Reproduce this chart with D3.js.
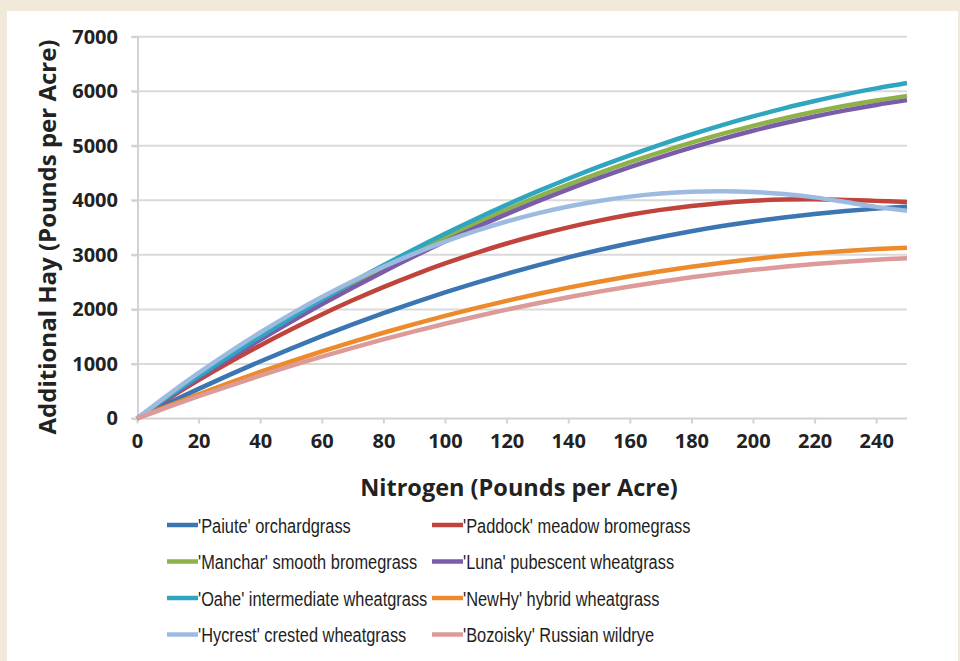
<!DOCTYPE html>
<html><head><meta charset="utf-8">
<script src="https://cdn.jsdelivr.net/npm/d3@7/dist/d3.min.js"></script>
<style>
html,body{margin:0;padding:0;background:#f1e9da;}
svg{display:block;}
</style></head>
<body>
<svg id="chart" width="960" height="661"></svg>
<script>
const nitrogen = [0,10,20,30,40,50,60,70,80,90,100,110,120,130,140,150,160,170,180,190,200,210,220,230,240,250];
const seriesNames = ["'Paiute' orchardgrass","'Paddock' meadow bromegrass","'Manchar' smooth bromegrass","'Luna' pubescent wheatgrass","'Oahe' intermediate wheatgrass","'NewHy' hybrid wheatgrass","'Hycrest' crested wheatgrass","'Bozoisky' Russian wildrye"];
const seriesColors = ["#3b76b3","#c0443b","#8db24a","#7a5ca8","#2fa6bf","#ec8a2c","#9dbbe0","#dc9a98"];
const paiute   = [0,277,543,800,1046,1282,1509,1725,1930,2126,2312,2488,2653,2808,2953,3089,3214,3328,3433,3528,3612,3686,3750,3804,3848,3883];
const paddock  = [0,360,704,1030,1340,1632,1908,2167,2409,2634,2842,3033,3208,3364,3505,3628,3735,3825,3897,3953,3992,4014,4019,4007,3990,3970];
const manchar  = [0,389,765,1128,1479,1817,2143,2455,2755,3042,3317,3579,3828,4065,4288,4500,4699,4885,5058,5218,5366,5501,5623,5733,5830,5915];
const luna     = [0,379,746,1100,1443,1773,2092,2398,2692,2974,3244,3502,3747,3981,4202,4411,4609,4794,4967,5127,5276,5412,5537,5649,5749,5837];
const oahe     = [0,394,776,1146,1503,1848,2181,2501,2808,3104,3387,3658,3916,4163,4396,4617,4826,5023,5207,5379,5538,5686,5820,5943,6052,6150];
const newhy    = [0,226,443,652,853,1045,1229,1405,1572,1731,1881,2023,2157,2282,2399,2507,2607,2699,2782,2857,2924,2982,3032,3073,3107,3131];
const hycrest  = [0,429,835,1218,1577,1913,2226,2515,2781,3024,3243,3439,3612,3761,3887,3989,4068,4124,4157,4166,4152,4115,4054,3970,3880,3810];
const bozoisky = [0,207,408,600,785,963,1133,1295,1450,1598,1738,1870,1996,2113,2223,2326,2421,2508,2588,2661,2726,2783,2834,2876,2911,2939];
const xTicks = [0,20,40,60,80,100,120,140,160,180,200,220,240];
const yTicks = [0,1000,2000,3000,4000,5000,6000,7000];
const xTitle = "Nitrogen (Pounds per Acre)";
const yTitle = "Additional Hay (Pounds per Acre)";

const allSeries = [paiute,paddock,manchar,luna,oahe,newhy,hycrest,bozoisky];

const svg = d3.select("#chart");
svg.append("rect").attr("x",7).attr("y",11).attr("width",951).attr("height",660).attr("fill","#ffffff");

const x = d3.scaleLinear().domain([0,250]).range([137,907]);
const y = d3.scaleLinear().domain([0,7000]).range([418.5,36.7]);

const titleFont = "'Open Sans', 'DejaVu Sans', sans-serif";
const legendFont = "'Liberation Sans', Arial, sans-serif";

// gridlines
svg.append("g").selectAll("line").data(yTicks.filter(d=>d>0)).join("line")
  .attr("x1",131).attr("x2",907).attr("y1",d=>y(d)).attr("y2",d=>y(d))
  .attr("stroke","#dadada").attr("stroke-width",2);

// y axis
const yAxis = svg.append("g").attr("transform","translate(138,0)")
  .call(d3.axisLeft(y).tickValues(yTicks).tickSize(6).tickPadding(14).tickFormat(d3.format("d")));
yAxis.select(".domain").attr("stroke","#d2d2d2").attr("stroke-width",2).attr("d","M0,36.7V418.5");
yAxis.selectAll(".tick line").attr("stroke","#d2d2d2").attr("stroke-width",2);
yAxis.selectAll("text").attr("font-family",titleFont).attr("font-weight",700).attr("font-size",20).attr("fill","#222");

// x axis
const xAxis = svg.append("g").attr("transform","translate(0,418.5)")
  .call(d3.axisBottom(x).tickValues(xTicks).tickSize(5).tickPadding(10).tickFormat(d3.format("d")));
xAxis.select(".domain").attr("stroke","#d2d2d2").attr("stroke-width",2).attr("d","M131,0H907");
xAxis.selectAll(".tick line").attr("stroke","#d2d2d2").attr("stroke-width",2);
xAxis.selectAll("text").attr("font-family",titleFont).attr("font-weight",700).attr("font-size",20).attr("fill","#222");

// titles
svg.append("text").attr("x",519).attr("y",496).attr("text-anchor","middle")
  .attr("font-family",titleFont).attr("font-weight",700).attr("font-size",23.5).attr("fill","#222").text(xTitle);
svg.append("text").attr("transform","translate(56,237) rotate(-90)").attr("text-anchor","middle")
  .attr("font-family",titleFont).attr("font-weight",700).attr("font-size",24).attr("fill","#222").text(yTitle);

// lines
const line = d3.line().x((d,i)=>x(nitrogen[i])).y(d=>y(d)).curve(d3.curveCatmullRom);
svg.append("g").selectAll("path").data(allSeries).join("path")
  .attr("d",d=>line(d)).attr("fill","none")
  .attr("stroke",(d,i)=>seriesColors[i]).attr("stroke-width",4.5).attr("stroke-linejoin","round");

// legend
const legX = [167,432], legY = [525,561.5,598,634.5];
const leg = svg.append("g").selectAll("g").data(seriesNames).join("g")
  .attr("transform",(d,i)=>`translate(${legX[i%2]},${legY[Math.floor(i/2)]})`);
leg.append("line").attr("x1",0).attr("x2",31).attr("y1",0).attr("y2",0)
  .attr("stroke",(d,i)=>seriesColors[i]).attr("stroke-width",4.5);
leg.append("text").attr("transform","translate(31,7.5) scale(0.78,1)")
  .attr("font-family",legendFont).attr("font-size",21).attr("fill","#1e1e1e").text(d=>d);
</script>
</body></html>
